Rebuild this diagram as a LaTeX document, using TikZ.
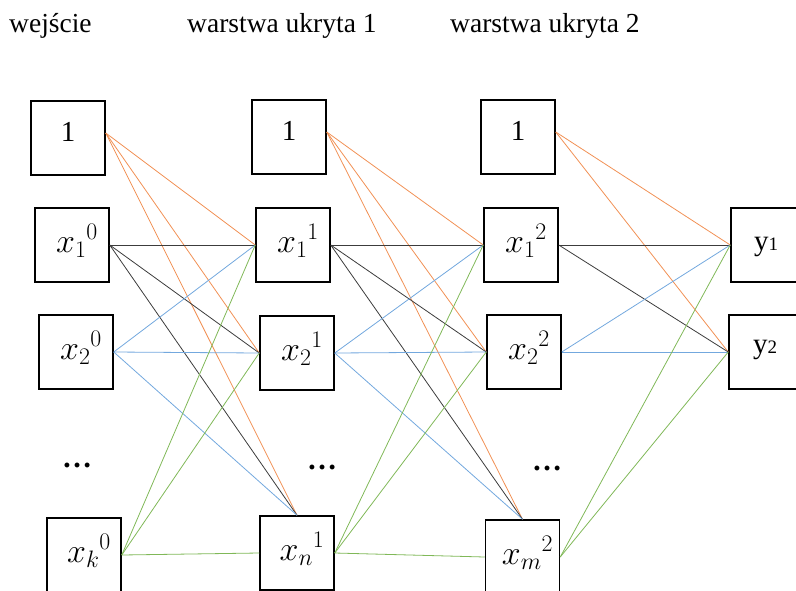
\RequirePackage{fix-cm}
\documentclass[tikz,border=0pt]{standalone}
\usepackage{fontspec}
\setmainfont{Liberation Serif}
\definecolor{wOrange}{RGB}{241,145,85}
\definecolor{wBlack}{RGB}{60,60,60}
\definecolor{wBlue}{RGB}{115,168,222}
\definecolor{wGreen}{RGB}{128,184,88}
\tikzset{
  unit/.style={draw, line width=1.5pt, minimum size=74pt, inner sep=0pt},
  lbl/.style={inner sep=0pt, font=\fontsize{34}{34}\selectfont},
  onelbl/.style={inner sep=0pt, font=\fontsize{29}{29}\selectfont},
  head/.style={inner sep=0pt, anchor=base west, font=\fontsize{27.5}{30}\selectfont},
  dotsl/.style={inner sep=0pt, anchor=base, font=\bfseries\fontsize{30}{30}\selectfont},
  link/.style={line width=0.8pt},
  lo/.style={link, wOrange},
  lk/.style={link, wBlack},
  lb/.style={link, wBlue},
  lg/.style={link, wGreen},
}
\begin{document}
\begin{tikzpicture}[x=1pt,y=-1pt]
\useasboundingbox (0,0) rectangle (796,590);
\clip (0,0) rectangle (796,590);

% layer titles
\node[head] (t0) at (9,32) {wejście};
\node[head] (t1) at (187,32) {warstwa ukryta 1};
\node[head] (t2) at (450,32) {warstwa ukryta 2};

% input layer
\node[unit] (in1) at (68,138) {};
\node[unit] (x10) at (72,245) {};
\node[unit] (x20) at (76,352) {};
\node[unit] (xk0) at (84,555) {};
% hidden layer 1
\node[unit] (h1one) at (289,137) {};
\node[unit] (x11) at (293,245) {};
\node[unit] (x21) at (297,353) {};
\node[unit] (xn1) at (297,553) {};
% hidden layer 2
\node[unit] (h2one) at (518,137) {};
\node[unit] (x12) at (521,245) {};
\node[unit] (x22) at (524,352) {};
\node[unit] (xm2) at (522.5,557) {};
% output layer
\node[unit] (y1) at (768,245) {};
\node[unit] (y2) at (766,352) {};

% box labels
\node[onelbl] (in1t) at ([shift={(0,-6)}]in1.center) {1};
\node[onelbl] (h1onet) at ([shift={(0,-6)}]h1one.center) {1};
\node[onelbl] (h2onet) at ([shift={(0,-6)}]h2one.center) {1};
\node[lbl] (x10t) at ([shift={(5,-4)}]x10.center) {${x_1}^{0}$};
\node[lbl] (x20t) at ([shift={(5,-4)}]x20.center) {${x_2}^{0}$};
\node[lbl] (xk0t) at ([shift={(5,-4)}]xk0.center) {${x_k}^{0}$};
\node[lbl] (x11t) at ([shift={(5,-4)}]x11.center) {${x_1}^{1}$};
\node[lbl] (x21t) at ([shift={(5,-4)}]x21.center) {${x_2}^{1}$};
\node[lbl] (xn1t) at ([shift={(5,-4)}]xn1.center) {${x_n}^{1}$};
\node[lbl] (x12t) at ([shift={(5,-4)}]x12.center) {${x_1}^{2}$};
\node[lbl] (x22t) at ([shift={(5,-4)}]x22.center) {${x_2}^{2}$};
\node[lbl] (xm2t) at ([shift={(5,-4)}]xm2.center) {${x_m}^{2}$};
\node[inner sep=0pt, anchor=base] (y1t) at (766,250)
  {\fontsize{29}{29}\selectfont y\fontsize{19}{19}\selectfont 1};
\node[inner sep=0pt, anchor=base] (y2t) at (765,353)
  {\fontsize{29}{29}\selectfont y\fontsize{19}{19}\selectfont 2};

% ellipses
\node[dotsl] (d0) at (77,467) {…};
\node[dotsl] (d1) at (322,469) {…};
\node[dotsl] (d2) at (547,470) {…};

% input -> hidden 1
\draw[lo] ([yshift=5pt]in1.east) -- (x11.west);
\draw[lo] ([yshift=5pt]in1.east) -- (x21.west);
\draw[lo] ([yshift=5pt]in1.east) -- (xn1.north);
\draw[lk] (x10.east) -- (x11.west);
\draw[lk] (x10.east) -- (x21.west);
\draw[lk] (x10.east) -- (xn1.north);
\draw[lb] (x20.east) -- (x11.west);
\draw[lb] (x20.east) -- (x21.west);
\draw[lb] (x20.east) -- (xn1.north);
\draw[lg] (xk0.east) -- (x11.west);
\draw[lg] (xk0.east) -- (x21.west);
\draw[lg] (xk0.east) -- (xn1.west);

% hidden 1 -> hidden 2
\draw[lo] ([yshift=5pt]h1one.east) -- (x12.west);
\draw[lo] ([yshift=5pt]h1one.east) -- (x22.west);
\draw[lo] ([yshift=5pt]h1one.east) -- (xm2.north);
\draw[lk] (x11.east) -- (x12.west);
\draw[lk] (x11.east) -- (x22.west);
\draw[lk] (x11.east) -- (xm2.north);
\draw[lb] (x21.east) -- (x12.west);
\draw[lb] (x21.east) -- (x22.west);
\draw[lb] (x21.east) -- (xm2.north);
\draw[lg] (xn1.east) -- (x12.west);
\draw[lg] (xn1.east) -- (x22.west);
\draw[lg] (xn1.east) -- (xm2.west);

% hidden 2 -> output
\draw[lo] ([yshift=5pt]h2one.east) -- (y1.west);
\draw[lo] ([yshift=5pt]h2one.east) -- (y2.west);
\draw[lk] (x12.east) -- (y1.west);
\draw[lk] (x12.east) -- (y2.west);
\draw[lb] (x22.east) -- (y1.west);
\draw[lb] (x22.east) -- (y2.west);
\draw[lg] (xm2.east) -- (y1.west);
\draw[lg] (xm2.east) -- (y2.west);
\end{tikzpicture}
\end{document}
